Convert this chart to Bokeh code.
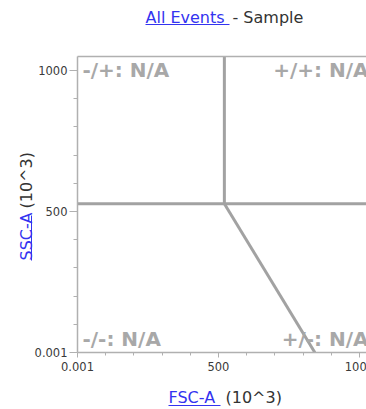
from bokeh.plotting import figure
from bokeh.models import (Range1d, LinearAxis, FixedTicker, Label, ColumnDataSource)
from bokeh.core.properties import value
from bokeh.embed import file_html
from bokeh.resources import INLINE
import math

# ---- data ----
x_ticks = [0, 500, 1000]
x_tick_labels = ["0.001", "500", "1000"]
y_ticks = [0, 500, 1000]
y_tick_labels = ["0.001", "500", "1000"]
minor_ticks = [100, 200, 300, 400, 600, 700, 800, 900]

x_full = (0, 1050)
y_full = (0, 1050)

v_gate_x = [521, 521]
v_gate_y = [528, 1050]
h_gate_x = [0, 1050]
h_gate_y = [528, 528]
d_gate_x = [521, 842]
d_gate_y = [528, 0]

quad_labels = ["-/+: N/A", "+/+: N/A", "-/-: N/A", "+/-: N/A"]
quad_side = ["left", "right", "left", "right"]
quad_vert = ["top", "top", "bottom", "bottom"]

title_link = "All Events "
title_rest = "- Sample"
x_label_link = "FSC-A"
y_label_link = "SSC-A"
axis_unit = "(10^3)"

# ---- layout (pixels) ----
ML, MT, MB = 77, 56, 57
frame_px = 296
MR = 330                      # off-screen side panel that hosts the text labels
W = ML + frame_px + MR
H = MT + frame_px + MB
scale = frame_px / (x_full[1] - x_full[0])

def px2x(px):
    return x_full[0] + (px - ML) / scale

def py2y(py):
    return y_full[0] + (MT + frame_px - py) / scale

p = figure(width=W, height=H, output_backend="svg", toolbar_location=None,
           x_range=Range1d(*x_full), y_range=Range1d(*y_full),
           min_border_left=ML, min_border_right=MR, min_border_top=MT,
           min_border_bottom=MB, x_axis_location=None, y_axis_location=None)
p.outline_line_color = None
p.grid.visible = False

AX = "#b0b0b0"
TICKLBL = "#3a3a3a"
FONT = "DejaVu Sans"
LINK = "#3333f0"
DARK = "#333333"

def overrides(ticks, labels):
    return {t: l for t, l in zip(ticks, labels)}

def style_main(ax, tick_out, minor_out, standoff):
    ax.axis_line_color = AX
    ax.axis_line_width = 1.5
    ax.major_tick_line_color = AX
    ax.minor_tick_line_color = AX
    ax.major_tick_out = tick_out
    ax.major_tick_in = 0
    ax.minor_tick_out = minor_out
    ax.minor_tick_in = 0
    ax.major_label_text_font = FONT
    ax.major_label_text_font_size = "11.5px"
    ax.major_label_text_color = TICKLBL
    ax.major_label_standoff = standoff

OFF = x_full[1] - 5  # an off-screen location for invisible spacer ticks

def bare_axis(line_color, space, bounds="auto", width=1.0):
    # axis with only a line; 'space' reserves room beyond its line by an
    # invisible (white, off-screen) tick
    ticks = [OFF] if space else []
    a = LinearAxis(ticker=FixedTicker(ticks=ticks), bounds=bounds,
                   major_label_overrides={t: "" for t in ticks})
    a.axis_line_color = line_color
    a.axis_line_width = width
    a.major_tick_line_color = "white"
    a.minor_tick_line_color = None
    a.major_tick_out = space
    a.major_tick_in = 0
    a.minor_tick_out = 0
    a.minor_tick_in = 0
    a.major_label_standoff = 0
    a.major_label_text_font_size = "0px"
    a.major_label_text_color = None
    return a

xa = LinearAxis(ticker=FixedTicker(ticks=x_ticks, minor_ticks=minor_ticks),
                major_label_overrides=overrides(x_ticks, x_tick_labels))
style_main(xa, 5, 3, 4)
p.add_layout(xa, "below")

ya = LinearAxis(ticker=FixedTicker(ticks=y_ticks, minor_ticks=minor_ticks),
                major_label_overrides=overrides(y_ticks, y_tick_labels))
style_main(ya, 8, 4, 2)
ya.major_label_orientation = "horizontal"
p.add_layout(ya, "left")

# top border of the frame, then the title underline
p.add_layout(bare_axis(AX, 32, width=1.5), "above")
p.add_layout(bare_axis(LINK, 0, bounds=(px2x(145), px2x(229))), "above")
# x-label underline
p.add_layout(bare_axis(None, 32), "below")
p.add_layout(bare_axis(LINK, 0, bounds=(px2x(168), px2x(220))), "below")
# y-label underline
p.add_layout(bare_axis(LINK, 0, bounds=(py2y(260), py2y(215))), "left")

# gate lines
GATE = "#a2a2a2"
for xs, ys in [(v_gate_x, v_gate_y), (h_gate_x, h_gate_y), (d_gate_x, d_gate_y)]:
    p.line(xs, ys, line_color=GATE, line_width=3)

# quadrant labels
pad = 5 / scale
qx, qy = [], []
for s, v in zip(quad_side, quad_vert):
    qx.append(x_full[0] + pad if s == "left" else x_full[1] - pad)
    qy.append(y_full[1] - 13 / scale if v == "top" else y_full[0] + 14 / scale)
src = ColumnDataSource(dict(x=qx, y=qy, t=quad_labels, a=quad_side))
p.text(x="x", y="y", text="t", text_align="a", source=src,
       text_font=value(FONT), text_font_style="bold", text_font_size="20px",
       text_color="#a8a8a8", text_baseline="alphabetic")

# text labels (positioned in data units, hosted in the off-screen right panel)
SH = 5.5
def lab(text, px, py, color, angle=0.0):
    if angle:
        px -= SH
    else:
        py -= SH
    return Label(x=px2x(px), y=py2y(py), text=text, text_color=color,
                 text_font=FONT, text_font_size="16px", text_align="left",
                 text_baseline="alphabetic", angle=angle)

for L in [lab(title_link, 145, 22, LINK), lab(title_rest, 232, 22, DARK),
          lab(x_label_link, 168, 402, LINK), lab(axis_unit, 225, 402, DARK),
          lab(y_label_link, 31, 260, LINK, math.pi / 2),
          lab(axis_unit, 31, 208, DARK, math.pi / 2)]:
    p.add_layout(L, "right")

open("out.html", "w").write(file_html(p, INLINE))
